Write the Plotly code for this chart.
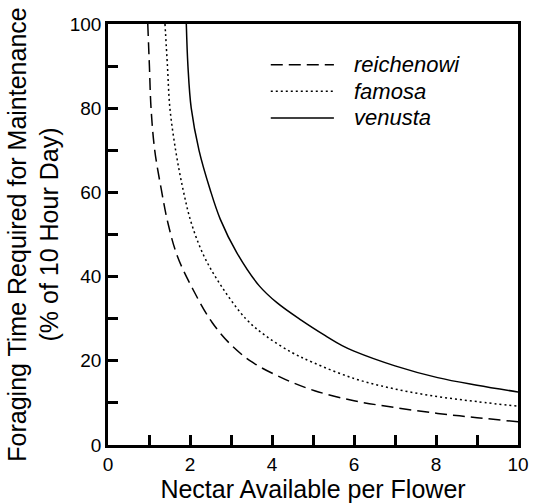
import plotly.graph_objects as go

# ---- data ----
reich_x = [0.97, 1.01, 1.05, 1.14, 1.30, 1.46, 1.69, 2.07, 2.54, 3.02, 3.53, 4.32, 5.04, 6.0, 7.0, 8.04, 9.0, 10.0]
reich_y = [100, 90, 80, 70, 60.7, 52.8, 44.9, 37.0, 29.1, 23.6, 19.6, 15.6, 12.9, 10.5, 8.9, 7.5, 6.5, 5.5]

famosa_x = [1.39, 1.45, 1.51, 1.65, 1.83, 2.03, 2.34, 2.78, 3.37, 3.85, 4.48, 5.0, 6.0, 7.0, 8.04, 9.0, 10.0]
famosa_y = [100, 90, 80, 70, 60.7, 52.8, 44.9, 37.5, 29.9, 25.9, 22.0, 19.6, 15.8, 13.3, 11.5, 10.3, 9.2]

venusta_x = [1.91, 1.95, 2.03, 2.22, 2.49, 2.74, 3.14, 3.69, 4.12, 4.72, 5.31, 5.71, 6.0, 7.0, 8.04, 9.0, 10.0]
venusta_y = [100, 90, 80, 70, 60.7, 53.6, 45.7, 37.8, 33.8, 29.6, 25.9, 23.6, 22.3, 18.8, 16.0, 14.2, 12.6]

series_names = ["reichenowi", "famosa", "venusta"]
series_dash = ["12px,6px", "2px,3px", "solid"]

x_title = "Nectar Available per Flower"
y_title = "Foraging Time Required for Maintenance<br>(% of 10 Hour Day)"

FONT = "Liberation Sans, Arial, Helvetica, sans-serif"

fig = go.Figure()
for name, xs, ys, dash in zip(series_names, [reich_x, famosa_x, venusta_x],
                              [reich_y, famosa_y, venusta_y], series_dash):
    fig.add_trace(go.Scatter(x=xs, y=ys, mode="lines", name=name,
                             line=dict(color="black", width=1.5, dash=dash, shape="spline", smoothing=1.0),
                             showlegend=False, cliponaxis=True))

# legend drawn inside the plot (long line samples like the original)
leg_y = [0.903, 0.840, 0.777]
for name, dash, yy in zip(series_names, series_dash, leg_y):
    fig.add_shape(type="line", xref="paper", yref="paper", x0=0.397, x1=0.551, y0=yy, y1=yy,
                  line=dict(color="black", width=1.5, dash=dash))
    fig.add_annotation(xref="paper", yref="paper", x=0.594, y=yy, xanchor="left", yanchor="middle",
                       text="<i>" + name + "</i>", showarrow=False,
                       font=dict(family=FONT, size=22, color="black"))

fig.update_layout(
    width=537, height=504,
    margin=dict(l=108, r=8, t=24, b=58),
    paper_bgcolor="white", plot_bgcolor="white",
    font=dict(family=FONT, color="black", size=18),
    showlegend=False,
)
fig.update_xaxes(range=[0, 10], dtick=2, tick0=0, ticks="inside", ticklen=10, tickwidth=2.5,
                 minor=dict(dtick=1, ticks="inside", ticklen=10, tickwidth=2.5, tickcolor="black"),
                 showline=True, linewidth=2.5, linecolor="black", mirror=True,
                 showgrid=False, zeroline=False, tickcolor="black",
                 tickfont=dict(size=19),
                 title=dict(text=x_title, font=dict(size=25), standoff=4))
fig.update_yaxes(range=[0, 100], dtick=20, tick0=0, ticks="inside", ticklen=10, tickwidth=2.5,
                 minor=dict(dtick=10, ticks="inside", ticklen=10, tickwidth=2.5, tickcolor="black"),
                 showline=True, linewidth=2.5, linecolor="black", mirror=True,
                 showgrid=False, zeroline=False, tickcolor="black",
                 tickfont=dict(size=19),
                 title=dict(text=y_title, font=dict(size=25), standoff=4))

fig.write_html("out.html")
